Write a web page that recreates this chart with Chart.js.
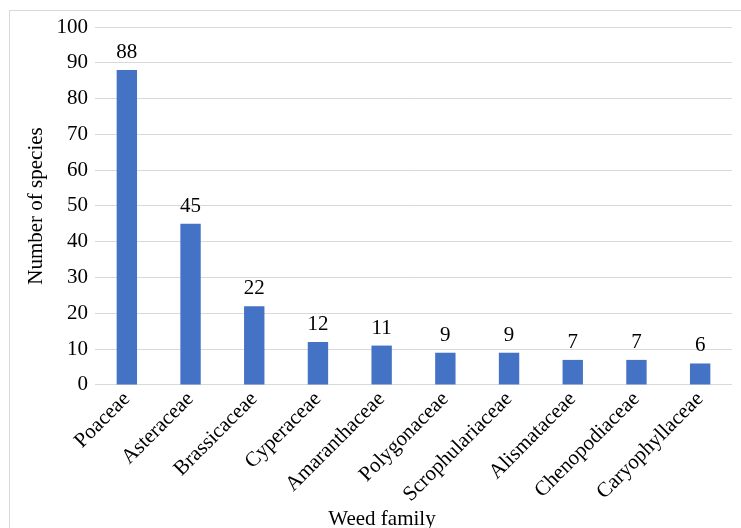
<!DOCTYPE html>
<html>
<head>
<meta charset="utf-8">
<script src="https://cdn.jsdelivr.net/npm/chart.js@4"></script>
<style>
html,body{margin:0;padding:0;background:#fff;overflow:hidden;}
#wrap{position:relative;width:741px;height:528px;}
</style>
</head>
<body>
<div id="wrap"><canvas id="c" width="741" height="528"></canvas></div>
<script>
const families = ["Poaceae","Asteraceae","Brassicaceae","Cyperaceae","Amaranthaceae","Polygonaceae","Scrophulariaceae","Alismataceae","Chenopodiaceae","Caryophyllaceae"];
const speciesCounts = [88,45,22,12,11,9,9,7,7,6];
const yTicks = [0,10,20,30,40,50,60,70,80,90,100];
const xTitle = "Weed family";
const yTitle = "Number of species";

const FONT = "'Liberation Serif','Times New Roman',serif";

const frame = {
  id: 'frame',
  beforeDraw(chart) {
    const ctx = chart.ctx;
    ctx.save();
    ctx.fillStyle = '#fff';
    ctx.fillRect(0,0,chart.width,chart.height);
    ctx.strokeStyle = '#d9d9d9';
    ctx.lineWidth = 1;
    ctx.strokeRect(9.5, 10.5, 900, 700);
    ctx.restore();
  },
  afterDraw(chart) {
    const ctx = chart.ctx;
    ctx.save();
    ctx.font = "21px " + FONT;
    ctx.fillStyle = '#000';
    ctx.textAlign = 'center';
    ctx.textBaseline = 'alphabetic';
    ctx.fillText(xTitle, 382, 525);
    ctx.restore();
  }
};

const valueLabels = {
  id: 'valueLabels',
  afterDatasetsDraw(chart) {
    const ctx = chart.ctx;
    const meta = chart.getDatasetMeta(0);
    ctx.save();
    ctx.font = "21px " + FONT;
    ctx.fillStyle = '#000';
    ctx.textAlign = 'center';
    ctx.textBaseline = 'alphabetic';
    meta.data.forEach((bar, i) => {
      ctx.fillText(String(speciesCounts[i]), bar.x, bar.y - 12);
    });
    ctx.restore();
  }
};

new Chart(document.getElementById('c'), {
  type: 'bar',
  data: {
    labels: families,
    datasets: [{
      data: speciesCounts,
      backgroundColor: '#4472C4',
      borderWidth: 0,
      barPercentage: 0.32,
      categoryPercentage: 1.0
    }]
  },
  options: {
    responsive: false,
    animation: false,
    devicePixelRatio: 1,
    layout: { padding: { left: 12, right: 9, top: 27, bottom: 27 } },
    plugins: { legend: { display: false }, tooltip: { enabled: false } },
    scales: {
      x: {
        grid: { display: false },
        border: { display: false },
        ticks: {
          color: '#000',
          font: { family: FONT, size: 21 },
          minRotation: 45, maxRotation: 45,
          padding: -6
        },
        title: { display: false }
      },
      y: {
        min: 0, max: 100,
        afterFit(scale) { scale.width = 83; },
        afterBuildTicks(scale) { scale.ticks = yTicks.map(v => ({ value: v })); },
        grid: { color: '#d9d9d9', lineWidth: 1, drawTicks: false },
        border: { display: false },
        ticks: {
          color: '#000',
          font: { family: FONT, size: 21 },
          padding: 7,
          stepSize: 10
        },
        title: {
          display: true, text: yTitle, color: '#000',
          font: { family: FONT, size: 21 },
          padding: { top: 12, bottom: 0 }
        }
      }
    }
  },
  plugins: [frame, valueLabels]
});
</script>
</body>
</html>
